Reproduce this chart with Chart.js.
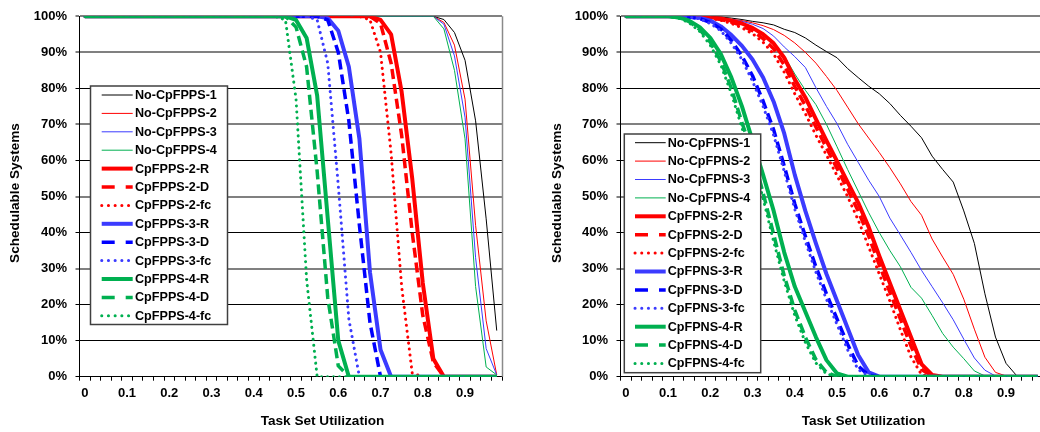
<!DOCTYPE html>
<html>
<head>
<meta charset="utf-8">
<script src="https://cdn.jsdelivr.net/npm/chart.js@4.4.0/dist/chart.umd.min.js"></script>
<style>
  html, body { margin: 0; padding: 0; background: #fff; overflow: hidden; }
  #wrap { position: relative; width: 1040px; height: 432px; overflow: hidden; background: #fff; }
  #fpps { position: absolute; left: 0; top: 0; }
  #fpns { position: absolute; left: 520px; top: 0; }
</style>
</head>
<body>
<div id="wrap">
  <canvas id="fpps" width="520" height="432"></canvas>
  <canvas id="fpns" width="540" height="432"></canvas>
</div>
<script>
// task set utilization categories (every 4th one gets a label)
var utilization = ['0','0.025','0.05','0.075','0.1','0.125','0.15','0.175','0.2','0.225',
                   '0.25','0.275','0.3','0.325','0.35','0.375','0.4','0.425','0.45','0.475',
                   '0.5','0.525','0.55','0.575','0.6','0.625','0.65','0.675','0.7','0.725',
                   '0.75','0.775','0.8','0.825','0.85','0.875','0.9','0.925','0.95','0.975'];

var fppsNames = ['No-CpFPPS-1','No-CpFPPS-2','No-CpFPPS-3','No-CpFPPS-4',
                 'CpFPPS-2-R','CpFPPS-2-D','CpFPPS-2-fc',
                 'CpFPPS-3-R','CpFPPS-3-D','CpFPPS-3-fc',
                 'CpFPPS-4-R','CpFPPS-4-D','CpFPPS-4-fc'];
var fpnsNames = ['No-CpFPNS-1','No-CpFPNS-2','No-CpFPNS-3','No-CpFPNS-4',
                 'CpFPNS-2-R','CpFPNS-2-D','CpFPNS-2-fc',
                 'CpFPNS-3-R','CpFPNS-3-D','CpFPNS-3-fc',
                 'CpFPNS-4-R','CpFPNS-4-D','CpFPNS-4-fc'];

// ---- left chart: schedulable systems (%) ----
var noFpps1 = [100,100,100,100,100,100,100,100,100,100, 100,100,100,100,100,100,100,100,100,100,
               100,100,100,100,100,100,100,100,100,100, 100,100,100,100,99.1,95.5,87.8,71,43.8,12.8];
var noFpps2 = [100,100,100,100,100,100,100,100,100,100, 100,100,100,100,100,100,100,100,100,100,
               100,100,100,100,100,100,100,100,100,100, 100,100,100,100,98.3,92,77,42,15.5,0.5];
var noFpps3 = [100,100,100,100,100,100,100,100,100,100, 100,100,100,100,100,100,100,100,100,100,
               100,100,100,100,100,100,100,100,100,100, 100,100,100,100,97.8,89,72,33,7.8,0.5];
var noFpps4 = [100,100,100,100,100,100,100,100,100,100, 100,100,100,100,100,100,100,100,100,100,
               100,100,100,100,100,100,100,100,100,100, 100,100,100,100,96.5,85,66,25,2.7,0.5];
var fpps2R  = [100,100,100,100,100,100,100,100,100,100, 100,100,100,100,100,100,100,100,100,100,
               100,100,100,100,100,100,100,100,99,95, 79,55,26,5,0,0,0,0,0,0];
var fpps2D  = [100,100,100,100,100,100,100,100,100,100, 100,100,100,100,100,100,100,100,100,100,
               100,100,100,100,100,100,100,100,98,87, 67,40,17,4,0,0,0,0,0,0];
var fpps2fc = [100,100,100,100,100,100,100,100,100,100, 100,100,100,100,100,100,100,100,100,100,
               100,100,100,100,100,100,100,99,90,62, 25,1,0,0,0,0,0,0,0,0];
var fpps3R  = [100,100,100,100,100,100,100,100,100,100, 100,100,100,100,100,100,100,100,100,100,
               100,100,100,99.5,96,86,66,29,7.5,0, 0,0,0,0,0,0,0,0,0,0];
var fpps3D  = [100,100,100,100,100,100,100,100,100,100, 100,100,100,100,100,100,100,100,100,100,
               100,100,100,99,90,71,42,15,0,0, 0,0,0,0,0,0,0,0,0,0];
var fpps3fc = [100,100,100,100,100,100,100,100,100,100, 100,100,100,100,100,100,100,100,100,100,
               100,100,99,87,53,16,0,0,0,0, 0,0,0,0,0,0,0,0,0,0];
var fpps4R  = [100,100,100,100,100,100,100,100,100,100, 100,100,100,100,100,100,100,100,100,100,
               99,94,78,44,10,0,0,0,0,0, 0,0,0,0,0,0,0,0,0,0];
var fpps4D  = [100,100,100,100,100,100,100,100,100,100, 100,100,100,100,100,100,100,100,100,100,
               97,86,57,22,3,0,0,0,0,0, 0,0,0,0,0,0,0,0,0,0];
var fpps4fc = [100,100,100,100,100,100,100,100,100,100, 100,100,100,100,100,100,100,100,100,99,
               77,27,0,0,0,0,0,0,0,0, 0,0,0,0,0,0,0,0,0,0];

// ---- right chart: schedulable systems (%) ----
var noFpns1 = [100,100,100,100,100,100,100,100,100,99.8, 99.5,99.1,98.6,98.2,97.6,96.4,95.5,94,92,90.2,
               88.5,85.5,83,80.6,78.5,75.8,72.5,69.5,66.3,61.2, 57.5,54,46,37,23,11,3.7,0.3,0,0];
var noFpns2 = [100,100,100,100,100,100,100,99.9,99.7,99.5, 99.2,98.8,98.2,97.4,96.3,94.7,92.6,90,87,83.3,
               79.4,74.8,70.2,66.2,62.2,58,53.5,48.6,44.8,38.2, 33.2,28.4,21.5,13.2,5.4,1.2,0.2,0,0,0];
var noFpns3 = [100,100,100,100,100,100,100,99.9,99.8,99.5, 99.1,98.6,97.8,96.6,94.5,91.5,88.8,85.8,80.2,75,
               70.2,64.5,59.5,54.5,50,44,39.3,34.5,29.5,25, 20.5,15.8,10.4,5.2,1.8,0.2,0,0,0,0];
var noFpns4 = [100,100,100,100,100,100,100,99.8,99.7,99.4, 98.8,98,97,95.3,92.8,89,84,79.5,75.5,70,
               63.8,57.5,51.5,45.5,40,35,30.5,24.8,21.8,17, 12,8.2,5,1.6,0.2,0,0,0,0,0];
var fpns2R  = [100,100,100,100,100,100,100,99.9,99.7,99.4, 98.8,98,96.8,95,92.5,88.5,82.5,77.5,71.5,65.5,
               59.8,54,48.3,41.5,33.5,26,18.5,11,3.5,0.5, 0,0,0,0,0,0,0,0,0,0];
var fpns2D  = [100,100,100,100,100,100,100,99.8,99.5,99.1, 98.4,97.4,96,93.8,91,86.5,80.5,75.2,69.3,63.5,
               57.8,52,46,39,31,23.5,16,8.5,2,0.2, 0,0,0,0,0,0,0,0,0,0];
var fpns2fc = [100,100,100,100,100,100,100,99.8,99.4,98.9, 98,96.8,95.2,92.8,89.5,84.5,78.5,73,67,61.5,
               55.8,50,43.5,36,28.5,21,13,5.5,0.6,0, 0,0,0,0,0,0,0,0,0,0];
var fpns3R  = [100,100,100,100,100,100,99.9,99.6,98.8,97.2, 94.8,91.8,88,83,76.3,67.5,56,46,37,28.5,
               21,13.5,6,1.2,0,0,0,0,0,0, 0,0,0,0,0,0,0,0,0,0];
var fpns3D  = [100,100,100,100,100,100,99.8,99.4,98.3,96.5, 93.3,89,83.5,76.5,68.5,58.5,48,39,30.5,23,
               16,9,3,0.4,0,0,0,0,0,0, 0,0,0,0,0,0,0,0,0,0];
var fpns3fc = [100,100,100,100,100,100,99.8,99.3,98,96, 92.5,88,82,75,67,57,46.5,37.5,29,21.5,
               14.5,7.5,2,0.2,0,0,0,0,0,0, 0,0,0,0,0,0,0,0,0,0];
var fpns4R  = [100,100,100,100,100,99.7,98.8,97,94,89.5, 83,75,65.5,56,46,34.5,25,18,11,4.6,
               0.9,0,0,0,0,0,0,0,0,0, 0,0,0,0,0,0,0,0,0,0];
var fpns4D  = [100,100,100,100,100,99.6,98.5,96.3,92.8,87.5, 80,70.5,62,51,39.5,28,18.5,11,4.8,1.2,
               0,0,0,0,0,0,0,0,0,0, 0,0,0,0,0,0,0,0,0,0];
var fpns4fc = [100,100,100,100,100,99.5,98.2,95.8,92,86.5, 78.5,69,60,49.5,37.5,26.5,17,9.5,3.8,0.8,
               0,0,0,0,0,0,0,0,0,0, 0,0,0,0,0,0,0,0,0,0];

var fppsSeries = [noFpps1, noFpps2, noFpps3, noFpps4, fpps2R, fpps2D, fpps2fc, fpps3R, fpps3D, fpps3fc, fpps4R, fpps4D, fpps4fc];
var fpnsSeries = [noFpns1, noFpns2, noFpns3, noFpns4, fpns2R, fpns2D, fpns2fc, fpns3R, fpns3D, fpns3fc, fpns4R, fpns4D, fpns4fc];

var seriesColors = ['#000000','#ff0000','#3b3bff','#00b050',
                    '#ff0000','#ff0000','#ff0000',
                    '#3b3bff','#0000ff','#3b3bff',
                    '#00b050','#00b050','#00b050'];
var seriesKinds = ['thin','thin','thin','thin','R','D','fc','R','D','fc','R','D','fc'];

var FONT = "'Liberation Sans', Arial, Helvetica, sans-serif";

function styleFor(kind) {
    if (kind === 'thin') return { borderWidth: 1, borderDash: [], legendDash: [] };
    if (kind === 'R') return { borderWidth: 4, borderDash: [], legendDash: [] };
    if (kind === 'D') return { borderWidth: 3.5, borderDash: [10, 5], legendDash: [13, 11] };
    return { borderWidth: 3, borderDash: [0.1, 5.9], legendDash: [0.1, 6.6], borderCapStyle: 'round' };
}

function buildDatasets(names, series) {
    return names.map(function (name, i) {
        var st = styleFor(seriesKinds[i]);
        return {
            label: name,
            data: series[i],
            borderColor: seriesColors[i],
            backgroundColor: seriesColors[i],
            borderWidth: st.borderWidth,
            borderDash: st.borderDash,
            legendDash: st.legendDash,
            borderCapStyle: st.borderCapStyle || 'butt',
            borderJoinStyle: 'round',
            pointRadius: 0,
            tension: 0,
            fill: false,
            order: names.length - i   // later series drawn on top
        };
    });
}

// legend box + axis titles drawn over the plot
function overlayPlugin(geo) {
    return {
        id: 'overlay',
        afterDraw: function (chart) {
            var ctx = chart.ctx;
            var area = chart.chartArea;
            ctx.save();

            // right border of the plot area
            ctx.strokeStyle = '#8a8a8a';
            ctx.lineWidth = 1.5;
            ctx.beginPath();
            ctx.moveTo(area.right + 0.5, area.top);
            ctx.lineTo(area.right + 0.5, area.bottom);
            ctx.stroke();

            // legend
            var lg = geo.legend;
            ctx.fillStyle = '#ffffff';
            ctx.fillRect(lg.x, lg.y, lg.w, lg.h);
            ctx.strokeStyle = '#404040';
            ctx.lineWidth = 1.5;
            ctx.strokeRect(lg.x, lg.y, lg.w, lg.h);
            ctx.font = 'bold 12.6px ' + FONT;
            ctx.textAlign = 'left';
            ctx.textBaseline = 'middle';
            chart.data.datasets.forEach(function (ds, i) {
                var y = lg.row0 + i * lg.step;
                ctx.beginPath();
                ctx.strokeStyle = ds.borderColor;
                ctx.lineWidth = ds.borderWidth;
                ctx.lineCap = ds.borderCapStyle;
                ctx.setLineDash(ds.legendDash);
                ctx.moveTo(lg.sx0, y);
                ctx.lineTo(lg.sx1, y);
                ctx.stroke();
                ctx.setLineDash([]);
                ctx.lineCap = 'butt';
                ctx.fillStyle = '#000';
                ctx.fillText(ds.label, lg.tx, y + 0.5);
            });

            // axis titles
            ctx.fillStyle = '#000';
            ctx.font = 'bold 13.6px ' + FONT;
            ctx.textAlign = 'center';
            ctx.textBaseline = 'middle';
            ctx.fillText('Task Set Utilization', geo.xTitle[0], geo.xTitle[1]);
            ctx.translate(geo.yTitle[0], geo.yTitle[1]);
            ctx.rotate(-Math.PI / 2);
            ctx.fillText('Schedulable Systems', 0, 0);
            ctx.restore();
        }
    };
}

function makeChart(id, names, series, geo) {
    return new Chart(document.getElementById(id), {
        type: 'line',
        data: {
            labels: utilization,
            datasets: buildDatasets(names, series)
        },
        options: {
            responsive: false,
            animation: false,
            devicePixelRatio: 1,
            layout: { padding: { left: 0, top: 11.5, right: geo.padRight, bottom: 0 } },
            plugins: { legend: { display: false }, tooltip: { enabled: false } },
            scales: {
                x: {
                    type: 'category',
                    offset: true,
                    grid: { offset: true, drawOnChartArea: false, drawTicks: true, tickLength: 4, color: '#000' },
                    border: { display: true, color: '#000', width: 1 },
                    ticks: {
                        autoSkip: false,
                        maxRotation: 0,
                        padding: 5,
                        color: '#000',
                        font: { family: FONT, size: 13, weight: 'bold' },
                        callback: function (value, index) {
                            return index % 4 === 0 ? this.getLabelForValue(value) : '';
                        }
                    },
                    afterFit: function (s) { s.height = 55.3; }
                },
                y: {
                    min: 0,
                    max: 100,
                    grid: {
                        drawTicks: true,
                        tickLength: 4,
                        color: function (c) {
                            var v = c.tick ? c.tick.value : 0;
                            return (v === 30 || v === 50 || v === 70 || v === 90 || v === 100) ? '#808080' : '#000';
                        },
                        lineWidth: function (c) {
                            var v = c.tick ? c.tick.value : 0;
                            return (v === 30 || v === 50 || v === 70 || v === 90 || v === 100) ? 2 : 1;
                        }
                    },
                    border: { display: true, color: '#000', width: 1 },
                    ticks: {
                        stepSize: 10,
                        padding: 8.5,
                        color: '#000',
                        font: { family: FONT, size: 13, weight: 'bold' },
                        callback: function (v) { return v + '%'; }
                    },
                    afterFit: function (s) { s.width = geo.yWidth; }
                }
            }
        },
        plugins: [overlayPlugin(geo)]
    });
}

makeChart('fpps', fppsNames, fppsSeries, {
    yWidth: 79.5,
    padRight: 18,
    legend: { x: 90.5, y: 86, w: 137, h: 238.5, row0: 95, step: 18.4, sx0: 101.7, sx1: 132.7, tx: 135 },
    xTitle: [322.5, 421.7],
    yTitle: [15.3, 193]
});

makeChart('fpns', fpnsNames, fpnsSeries, {
    yWidth: 100.5,
    padRight: 17,
    legend: { x: 104.3, y: 134, w: 136.4, h: 238.7, row0: 142.7, step: 18.4, sx0: 115, sx1: 145.7, tx: 147.7 },
    xTitle: [343.5, 421.7],
    yTitle: [37.2, 193]
});
</script>
</body>
</html>
